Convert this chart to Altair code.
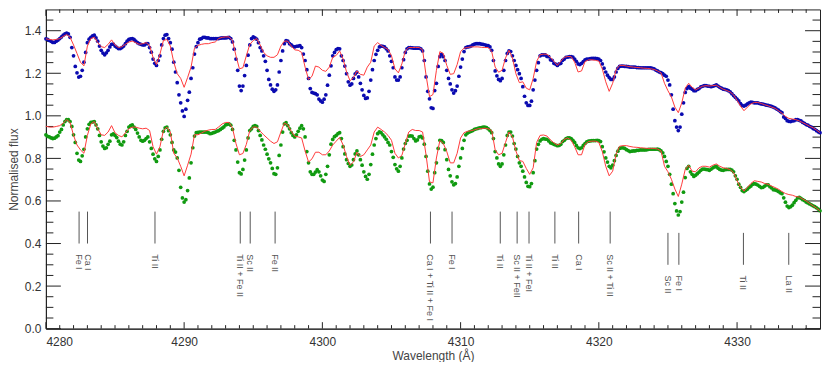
import altair as alt
import pandas as pd

# ---------------- data ----------------
WAVE_START = 4280.0
WAVE_STEP = 0.25
MID_START = 4280.125   # observed spectra are also read half-way between grid points

# observed spectrum, upper (blue dots), at 4280.00, 4280.25, ...
OBS_TOP = [
    1.362, 1.354, 1.345, 1.351, 1.363, 1.379, 1.389, 1.369, 1.282, 1.202,
    1.186, 1.252, 1.344, 1.369, 1.379, 1.351, 1.308, 1.287, 1.308, 1.336,
    1.328, 1.316, 1.321, 1.339, 1.359, 1.363, 1.351, 1.339, 1.333, 1.339,
    1.321, 1.267, 1.237, 1.282, 1.363, 1.382, 1.344, 1.252,
    1.156, 1.061, 0.997, 1.073, 1.176, 1.29, 1.344, 1.363, 1.369, 1.366,
    1.363, 1.363, 1.363, 1.366, 1.366, 1.369, 1.347, 1.267, 1.14, 1.14,
    1.237, 1.333, 1.371, 1.36, 1.321, 1.282, 1.214, 1.145, 1.115, 1.145,
    1.26, 1.339, 1.351, 1.333, 1.324, 1.328,
    1.321, 1.26, 1.176, 1.11, 1.104, 1.079, 1.064, 1.099, 1.191, 1.282,
    1.311, 1.315, 1.26, 1.198, 1.144, 1.176, 1.205, 1.153, 1.096, 1.084,
    1.168, 1.26, 1.308, 1.328, 1.324, 1.305, 1.256, 1.183, 1.168, 1.226,
    1.298, 1.321, 1.319, 1.318, 1.318, 1.305, 1.183, 1.08,
    1.035, 1.153, 1.278, 1.278, 1.214, 1.15, 1.107, 1.14, 1.229, 1.302,
    1.324, 1.328, 1.337, 1.339, 1.337, 1.334, 1.33, 1.308, 1.211, 1.171,
    1.176, 1.26, 1.305, 1.282, 1.237, 1.198, 1.137, 1.061, 1.049, 1.122,
    1.214, 1.282, 1.287, 1.279, 1.263, 1.247, 1.237,
    1.247, 1.267, 1.276, 1.278, 1.267, 1.244, 1.247, 1.263, 1.267, 1.27,
    1.27, 1.266, 1.244, 1.206, 1.18, 1.171, 1.206, 1.232, 1.234, 1.232,
    1.229, 1.229, 1.227, 1.226, 1.226, 1.226, 1.226, 1.221, 1.211, 1.203,
    1.191, 1.168, 1.099, 0.977, 0.931, 1.008, 1.11, 1.137,
    1.125, 1.118, 1.128, 1.139, 1.142, 1.139, 1.139, 1.145, 1.134, 1.125,
    1.122, 1.113, 1.095, 1.079, 1.057, 1.046, 1.056, 1.064, 1.061, 1.061,
    1.056, 1.053, 1.049, 1.044, 1.037, 1.027, 1.015, 0.988, 0.974, 0.976,
    0.982, 0.979, 0.969, 0.959, 0.951, 0.94, 0.93, 0.921,
]

# observed spectrum, upper, at 4280.125, 4280.375, ...
OBS_TOP_MID = [
    1.359, 1.35, 1.345, 1.356, 1.371, 1.385, 1.385, 1.321, 1.232, 1.182,
    1.214, 1.298, 1.36, 1.376, 1.366, 1.328, 1.295, 1.296, 1.324, 1.337,
    1.322, 1.316, 1.328, 1.351, 1.362, 1.359, 1.344, 1.336, 1.333, 1.339,
    1.299, 1.247, 1.26, 1.333, 1.379, 1.363, 1.313, 1.206,
    1.099, 1.023, 1.031, 1.111, 1.226, 1.325, 1.36, 1.369, 1.366, 1.363,
    1.363, 1.363, 1.365, 1.366, 1.368, 1.363, 1.313, 1.214, 1.119, 1.189,
    1.285, 1.363, 1.366, 1.344, 1.305, 1.256, 1.171, 1.125, 1.122, 1.206,
    1.305, 1.354, 1.339, 1.327, 1.327, 1.33,
    1.29, 1.217, 1.128, 1.107, 1.099, 1.07, 1.078, 1.144, 1.235, 1.298,
    1.316, 1.282, 1.234, 1.16, 1.15, 1.197, 1.183, 1.122, 1.082, 1.115,
    1.217, 1.289, 1.324, 1.327, 1.315, 1.282, 1.226, 1.168, 1.183, 1.264,
    1.315, 1.321, 1.318, 1.318, 1.315, 1.26, 1.115, 1.038,
    1.119, 1.232, 1.289, 1.26, 1.176, 1.122, 1.118, 1.186, 1.267, 1.321,
    1.325, 1.333, 1.339, 1.339, 1.336, 1.331, 1.324, 1.26, 1.188, 1.165,
    1.214, 1.293, 1.302, 1.26, 1.217, 1.176, 1.092, 1.049, 1.069, 1.168,
    1.25, 1.287, 1.287, 1.278, 1.261, 1.243,
    1.244, 1.261, 1.275, 1.278, 1.276, 1.256, 1.241, 1.255, 1.266, 1.269,
    1.27, 1.269, 1.26, 1.224, 1.191, 1.171, 1.183, 1.223, 1.234, 1.232,
    1.231, 1.229, 1.229, 1.227, 1.226, 1.226, 1.226, 1.223, 1.215, 1.206,
    1.198, 1.186, 1.145, 1.031, 0.947, 0.947, 1.061, 1.128,
    1.13, 1.118, 1.124, 1.136, 1.142, 1.14, 1.137, 1.142, 1.14, 1.13,
    1.124, 1.118, 1.104, 1.087, 1.07, 1.049, 1.05, 1.061, 1.063, 1.061,
    1.058, 1.055, 1.05, 1.047, 1.041, 1.032, 1.02, 0.995, 0.977, 0.973,
    0.977, 0.982, 0.976, 0.965, 0.956, 0.947, 0.937, 0.925,
]

# model spectrum, upper (red line)
MODEL_TOP = [
    1.362, 1.359, 1.357, 1.359, 1.363, 1.373, 1.382, 1.369, 1.333, 1.293,
    1.252, 1.235, 1.328, 1.363, 1.369, 1.344, 1.325, 1.321, 1.336, 1.357,
    1.333, 1.321, 1.325, 1.336, 1.347, 1.351, 1.344, 1.336, 1.339, 1.344,
    1.331, 1.275, 1.241, 1.29, 1.354, 1.359, 1.328, 1.252,
    1.198, 1.176, 1.134, 1.18, 1.229, 1.318, 1.331, 1.336, 1.339, 1.339,
    1.344, 1.347, 1.363, 1.369, 1.371, 1.371, 1.354, 1.282, 1.221, 1.226,
    1.282, 1.336, 1.354, 1.363, 1.333, 1.298, 1.282, 1.275, 1.275, 1.287,
    1.328, 1.351, 1.351, 1.328, 1.31, 1.308,
    1.298, 1.229, 1.171, 1.186, 1.234, 1.229, 1.214, 1.209, 1.229, 1.275,
    1.284, 1.305, 1.267, 1.206, 1.165, 1.18, 1.211, 1.195, 1.191, 1.229,
    1.252, 1.328, 1.344, 1.331, 1.321, 1.312, 1.282, 1.221, 1.202, 1.244,
    1.305, 1.321, 1.321, 1.321, 1.321, 1.31, 1.191, 1.09,
    1.10, 1.214, 1.302, 1.293, 1.237, 1.195, 1.198, 1.241, 1.302, 1.318,
    1.321, 1.324, 1.324, 1.324, 1.322, 1.321, 1.321, 1.302, 1.229, 1.205,
    1.214, 1.272, 1.308, 1.272, 1.198, 1.156, 1.16, 1.13, 1.122, 1.176,
    1.256, 1.287, 1.29, 1.289, 1.275, 1.256, 1.237,
    1.257, 1.275, 1.279, 1.278, 1.252, 1.206, 1.211, 1.255, 1.263, 1.263,
    1.261, 1.257, 1.221, 1.16, 1.115, 1.153, 1.217, 1.237, 1.237, 1.234,
    1.231, 1.229, 1.227, 1.226, 1.224, 1.223, 1.221, 1.218, 1.211, 1.202,
    1.153, 1.118, 1.089, 1.041, 1.015, 1.061, 1.13, 1.153,
    1.134, 1.122, 1.131, 1.139, 1.142, 1.14, 1.142, 1.144, 1.134, 1.125,
    1.119, 1.112, 1.098, 1.073, 1.046, 1.024, 1.041, 1.056, 1.063, 1.063,
    1.058, 1.052, 1.047, 1.041, 1.035, 1.024, 1.012, 0.997, 0.988, 0.985,
    0.982, 0.976, 0.968, 0.96, 0.951, 0.944, 0.933, 0.921,
]

# observed spectrum, lower (green dots), at 4280.00, 4280.25, ...
OBS_BOTTOM = [
    0.911, 0.901, 0.893, 0.901, 0.924, 0.957, 0.982, 0.973, 0.911, 0.824,
    0.786, 0.843, 0.939, 0.969, 0.973, 0.939, 0.878, 0.847, 0.866, 0.911,
    0.908, 0.881, 0.863, 0.908, 0.947, 0.957, 0.936, 0.901, 0.881, 0.893,
    0.878, 0.82, 0.786, 0.84, 0.927, 0.947, 0.911, 0.84,
    0.802, 0.664, 0.595, 0.649, 0.779, 0.905, 0.922, 0.924, 0.924, 0.921,
    0.918, 0.924, 0.931, 0.942, 0.957, 0.962, 0.936, 0.84, 0.733, 0.748,
    0.84, 0.931, 0.951, 0.95, 0.908, 0.863, 0.82, 0.779, 0.728, 0.756,
    0.863, 0.962, 0.954, 0.921, 0.901, 0.927,
    0.954, 0.901, 0.779, 0.725, 0.736, 0.737, 0.698, 0.725, 0.817, 0.889,
    0.908, 0.921, 0.855, 0.794, 0.763, 0.794, 0.835, 0.794, 0.737, 0.702,
    0.771, 0.863, 0.916, 0.921, 0.901, 0.875, 0.832, 0.771, 0.74, 0.802,
    0.87, 0.905, 0.905, 0.882, 0.901, 0.896, 0.809, 0.68,
    0.665, 0.779, 0.885, 0.875, 0.794, 0.718, 0.676, 0.713, 0.802, 0.885,
    0.919, 0.927, 0.936, 0.941, 0.945, 0.947, 0.939, 0.921, 0.832, 0.774,
    0.774, 0.863, 0.924, 0.905, 0.844, 0.779, 0.74, 0.687, 0.667, 0.733,
    0.844, 0.882, 0.893, 0.89, 0.873, 0.866, 0.86,
    0.866, 0.885, 0.896, 0.893, 0.875, 0.85, 0.85, 0.87, 0.881, 0.884,
    0.884, 0.884, 0.855, 0.802, 0.763, 0.768, 0.814, 0.847, 0.85, 0.841,
    0.832, 0.835, 0.838, 0.84, 0.84, 0.841, 0.843, 0.843, 0.844, 0.835,
    0.809, 0.763, 0.679, 0.588, 0.534, 0.595, 0.71, 0.763,
    0.725, 0.721, 0.736, 0.75, 0.748, 0.744, 0.756, 0.762, 0.748, 0.744,
    0.748, 0.748, 0.737, 0.702, 0.664, 0.644, 0.656, 0.67, 0.681, 0.675,
    0.663, 0.67, 0.676, 0.661, 0.652, 0.644, 0.634, 0.594, 0.569, 0.58,
    0.603, 0.617, 0.606, 0.595, 0.586, 0.577, 0.568, 0.554,
]

# observed spectrum, lower, at 4280.125, 4280.375, ...
OBS_BOTTOM_MID = [
    0.904, 0.896, 0.895, 0.907, 0.936, 0.973, 0.982, 0.95, 0.875, 0.792,
    0.812, 0.901, 0.96, 0.971, 0.957, 0.908, 0.858, 0.85, 0.881, 0.915,
    0.898, 0.867, 0.878, 0.927, 0.954, 0.947, 0.919, 0.885, 0.885, 0.901,
    0.847, 0.798, 0.809, 0.89, 0.944, 0.93, 0.875, 0.83,
    0.744, 0.614, 0.606, 0.708, 0.85, 0.921, 0.924, 0.924, 0.924, 0.916,
    0.921, 0.928, 0.936, 0.948, 0.96, 0.956, 0.885, 0.783, 0.727, 0.792,
    0.896, 0.939, 0.954, 0.931, 0.887, 0.843, 0.798, 0.753, 0.725, 0.814,
    0.924, 0.968, 0.939, 0.908, 0.911, 0.942,
    0.939, 0.832, 0.737, 0.725, 0.747, 0.718, 0.692, 0.763, 0.867, 0.902,
    0.916, 0.893, 0.821, 0.776, 0.769, 0.821, 0.817, 0.768, 0.715, 0.725,
    0.82, 0.893, 0.925, 0.911, 0.89, 0.863, 0.805, 0.751, 0.763, 0.844,
    0.885, 0.906, 0.893, 0.887, 0.904, 0.867, 0.74, 0.656,
    0.733, 0.847, 0.884, 0.841, 0.748, 0.69, 0.682, 0.763, 0.847, 0.911,
    0.924, 0.931, 0.939, 0.944, 0.947, 0.945, 0.931, 0.893, 0.802, 0.763,
    0.817, 0.908, 0.924, 0.87, 0.809, 0.763, 0.713, 0.669, 0.682, 0.789,
    0.866, 0.89, 0.891, 0.882, 0.87, 0.863,
    0.861, 0.879, 0.893, 0.896, 0.885, 0.861, 0.846, 0.861, 0.878, 0.882,
    0.884, 0.885, 0.879, 0.831, 0.783, 0.756, 0.789, 0.834, 0.849, 0.847,
    0.837, 0.834, 0.835, 0.838, 0.84, 0.84, 0.843, 0.843, 0.843, 0.841,
    0.826, 0.786, 0.725, 0.634, 0.553, 0.55, 0.641, 0.753,
    0.737, 0.715, 0.728, 0.744, 0.75, 0.747, 0.75, 0.76, 0.754, 0.745,
    0.747, 0.748, 0.745, 0.718, 0.679, 0.649, 0.65, 0.664, 0.678, 0.679,
    0.669, 0.664, 0.676, 0.667, 0.653, 0.649, 0.638, 0.615, 0.576, 0.573,
    0.592, 0.614, 0.612, 0.602, 0.591, 0.582, 0.573, 0.562,
]

# model spectrum, lower (red line)
MODEL_BOTTOM = [
    0.951, 0.947, 0.947, 0.95, 0.954, 0.965, 0.982, 0.969, 0.908, 0.863,
    0.84, 0.824, 0.908, 0.962, 0.973, 0.939, 0.911, 0.908, 0.924, 0.954,
    0.92, 0.908, 0.901, 0.92, 0.939, 0.947, 0.947, 0.942, 0.939, 0.942,
    0.931, 0.855, 0.82, 0.855, 0.931, 0.947, 0.924, 0.824,
    0.802, 0.763, 0.718, 0.768, 0.82, 0.911, 0.911, 0.919, 0.928, 0.933,
    0.936, 0.936, 0.948, 0.962, 0.969, 0.969, 0.942, 0.87, 0.817, 0.823,
    0.866, 0.931, 0.947, 0.947, 0.928, 0.911, 0.896, 0.881, 0.87, 0.878,
    0.924, 0.966, 0.957, 0.927, 0.905, 0.901,
    0.896, 0.835, 0.783, 0.798, 0.829, 0.829, 0.817, 0.817, 0.835, 0.863,
    0.881, 0.899, 0.863, 0.809, 0.768, 0.783, 0.829, 0.809, 0.817, 0.84,
    0.863, 0.924, 0.947, 0.936, 0.924, 0.908, 0.885, 0.824, 0.802, 0.814,
    0.87, 0.924, 0.936, 0.931, 0.931, 0.924, 0.817, 0.69,
    0.685, 0.802, 0.884, 0.87, 0.832, 0.779, 0.779, 0.824, 0.896, 0.921,
    0.927, 0.93, 0.934, 0.939, 0.94, 0.942, 0.939, 0.931, 0.84, 0.817,
    0.824, 0.875, 0.924, 0.901, 0.835, 0.79, 0.786, 0.753, 0.725, 0.756,
    0.875, 0.908, 0.91, 0.905, 0.887, 0.873, 0.863,
    0.87, 0.89, 0.896, 0.885, 0.855, 0.817, 0.817, 0.866, 0.879, 0.881,
    0.881, 0.875, 0.832, 0.763, 0.718, 0.74, 0.82, 0.857, 0.86, 0.86,
    0.856, 0.853, 0.852, 0.85, 0.849, 0.847, 0.847, 0.847, 0.844, 0.835,
    0.763, 0.737, 0.702, 0.656, 0.621, 0.679, 0.748, 0.768,
    0.74, 0.737, 0.756, 0.763, 0.763, 0.759, 0.768, 0.774, 0.763, 0.756,
    0.753, 0.747, 0.733, 0.695, 0.664, 0.646, 0.664, 0.682, 0.695, 0.692,
    0.689, 0.682, 0.678, 0.67, 0.663, 0.655, 0.644, 0.635, 0.63, 0.627,
    0.621, 0.618, 0.609, 0.6, 0.588, 0.577, 0.566, 0.554,
]

WAVE = [WAVE_START + WAVE_STEP * i for i in range(len(OBS_TOP))]
WAVE_MID = [MID_START + WAVE_STEP * i for i in range(len(OBS_TOP_MID))]

# line identifications
LINE_WAVE = [4282.40, 4283.01, 4287.89, 4294.06, 4294.78, 4296.58, 4307.82,
             4309.38, 4312.87, 4314.09, 4314.95, 4316.82, 4318.54, 4320.82,
             4325.00, 4325.79, 4330.46, 4333.74]
LINE_LABEL = ["Fe I", "Ca I", "Ti II", "Ti II + Fe II", "Sc II", "Fe II",
              "Ca I + Ti II + Fe I", "Fe I", "Ti II", "Sc II + FeII",
              "Ti II + FeI", "Ti II", "Ca I", "Sc II + Ti II",
              "Sc II", "Fe I", "Ti II", "La II"]
LINE_TOP = [0.55] * 14 + [0.45] * 4
LINE_BOTTOM = [0.40] * 14 + [0.30] * 4
LABEL_START = [0.35] * 14 + [0.25] * 4

# axis ticks
X_DOMAIN = [4280, 4336]
Y_DOMAIN = [0.0, 1.5]
X_MAJOR = [4280, 4290, 4300, 4310, 4320, 4330]
X_MINOR = [w for w in range(4281, 4336) if w % 10 != 0]
Y_MAJOR = [0.0, 0.2, 0.4, 0.6, 0.8, 1.0, 1.2, 1.4]
Y_MINOR = [0.05, 0.1, 0.15, 0.25, 0.3, 0.35, 0.45, 0.5, 0.55, 0.65, 0.7,
           0.75, 0.85, 0.9, 0.95, 1.05, 1.1, 1.15, 1.25, 1.3, 1.35, 1.45]

# ---------------- chart ----------------
W, H = 776, 320
FONT = "Liberation Sans"
AX = "#222222"

model = pd.DataFrame({"wave": WAVE, "model_top": MODEL_TOP,
                      "model_bottom": MODEL_BOTTOM})
obs = pd.DataFrame({
    "wave": WAVE + WAVE_MID,
    "obs_top": OBS_TOP + OBS_TOP_MID,
    "obs_bottom": OBS_BOTTOM + OBS_BOTTOM_MID,
})
lines = pd.DataFrame({"wave": LINE_WAVE, "label": LINE_LABEL,
                      "top": LINE_TOP, "bottom": LINE_BOTTOM,
                      "start": LABEL_START})

xs = alt.Scale(domain=X_DOMAIN, nice=False, zero=False)
ys = alt.Scale(domain=Y_DOMAIN, nice=False, zero=False)

X_AXIS = alt.Axis(values=X_MAJOR, format="d", ticks=False, grid=False,
                  labelPadding=8, titlePadding=3)
Y_AXIS = alt.Axis(values=Y_MAJOR, format=".1f", ticks=False, grid=False,
                  labelPadding=5, titleX=-32, titleY=H / 2, titleAngle=270,
                  titleAlign="center", titleBaseline="middle")
X_TITLE = "Wavelength (Å)"
Y_TITLE = "Normalised flux"


def xq(field):
    return alt.X(field, type="quantitative", scale=xs, axis=X_AXIS, title=X_TITLE)


def yq(field):
    return alt.Y(field, type="quantitative", scale=ys, axis=Y_AXIS, title=Y_TITLE)


ob = alt.Chart(obs)
blue = ob.mark_circle(size=14, opacity=1, color="#0a0ab0").encode(
    x=xq("wave"), y=yq("obs_top"))
green = ob.mark_circle(size=14, opacity=1, color="#109a10").encode(
    x=xq("wave"), y=yq("obs_bottom"))
mb = alt.Chart(model)
red_top = mb.mark_line(color="#ff3b3b", strokeWidth=1).encode(
    x=xq("wave"), y=yq("model_top"))
red_bottom = mb.mark_line(color="#ff3b3b", strokeWidth=1).encode(
    x=xq("wave"), y=yq("model_bottom"))

lb = alt.Chart(lines)
id_rules = lb.mark_rule(color="#555555", strokeWidth=1).encode(
    x=xq("wave"), y=yq("top"), y2="bottom")
id_text = lb.mark_text(angle=90, align="left", baseline="middle", fontSize=9,
                       font=FONT, color="#555555").encode(
    x=xq("wave"), y=yq("start"), text="label")

# inward ticks on all four sides
xmaj = pd.DataFrame({"t": X_MAJOR})
xmin = pd.DataFrame({"t": X_MINOR})
ymaj = pd.DataFrame({"t": Y_MAJOR})
ymin = pd.DataFrame({"t": Y_MINOR})


def xticks(df, length):
    c = alt.Chart(df).mark_rule(color=AX, strokeWidth=1)
    return (c.encode(x=xq("t"), y=alt.value(H), y2=alt.value(H - length))
            + c.encode(x=xq("t"), y=alt.value(0), y2=alt.value(length)))


def yticks(df, length):
    c = alt.Chart(df).mark_rule(color=AX, strokeWidth=1)
    return (c.encode(y=yq("t"), x=alt.value(0), x2=alt.value(length))
            + c.encode(y=yq("t"), x=alt.value(W), x2=alt.value(W - length)))


chart = alt.layer(
    xticks(xmaj, 6.5), xticks(xmin, 3.5), yticks(ymaj, 15), yticks(ymin, 7.5),
    id_rules, id_text, blue, green, red_top, red_bottom,
).properties(
    width=W, height=H,
    padding={"left": 0, "top": 0, "right": 0, "bottom": 0},
).configure_view(
    stroke=AX, strokeWidth=1,
).configure_axis(
    labelFont=FONT, labelFontSize=12, labelColor="#333333",
    titleFont=FONT, titleFontSize=12, titleFontWeight="normal",
    titleColor="#444444", domainColor=AX, domainWidth=1,
)

chart.save("out.html", embed_options={"renderer": "svg", "actions": False})
